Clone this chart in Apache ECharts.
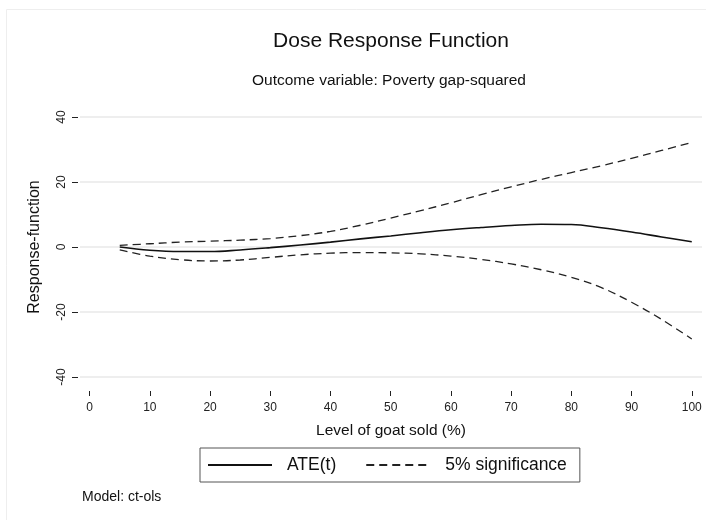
<!DOCTYPE html>
<html>
<head>
<meta charset="utf-8">
<script src="https://cdn.jsdelivr.net/npm/echarts@6/dist/echarts.min.js"></script>
<style>
  html, body { margin: 0; padding: 0; background: #fff; }
  #chart { width: 706px; height: 520px; }
</style>
</head>
<body>
<div id="chart"></div>
<script>
// Treatment level (% of goats sold)
const dose = [5, 10, 15, 20, 25, 30, 35, 40, 45, 50, 55, 60, 65, 70, 75, 80, 85, 90, 95, 100];
// Estimated dose response, ATE(t)
const ate = [0.0, -1.0, -1.4, -1.4, -0.9, -0.2, 0.6, 1.5, 2.5, 3.4, 4.4, 5.3, 6.0, 6.6, 7.0, 6.9, 5.9, 4.6, 3.1, 1.6];
// 5% significance bands
const upper = [0.5, 1.0, 1.5, 1.8, 2.1, 2.6, 3.5, 4.8, 6.7, 8.9, 11.2, 13.6, 16.1, 18.5, 20.8, 22.9, 25.0, 27.3, 29.7, 32.2];
const lower = [-0.9, -2.8, -3.9, -4.3, -4.0, -3.2, -2.4, -1.9, -1.7, -1.8, -2.1, -2.8, -3.8, -5.2, -7.0, -9.3, -12.5, -17.0, -22.3, -28.3];
// Axis tick labels
const xTicks = [0, 10, 20, 30, 40, 50, 60, 70, 80, 90, 100];
const yTicks = [-40, -20, 0, 20, 40];

const FONT = '"Liberation Sans", Arial, sans-serif';
const pair = (xs, ys) => xs.map((x, i) => [x, ys[i]]);

const chart = echarts.init(document.getElementById('chart'), null, { renderer: 'canvas' });

chart.setOption({
  backgroundColor: '#ffffff',
  animation: false,
  textStyle: { fontFamily: FONT },
  title: [
    {
      text: 'Dose Response Function',
      left: 386, top: 26, textAlign: 'center',
      textStyle: { fontFamily: FONT, fontSize: 21, fontWeight: 'normal', color: '#111' }
    },
    {
      text: 'Outcome variable: Poverty gap-squared',
      left: 384, top: 68, textAlign: 'center',
      textStyle: { fontFamily: FONT, fontSize: 15.5, fontWeight: 'normal', color: '#111' }
    }
  ],
  grid: { left: 80, right: 4, top: 117, bottom: 143, containLabel: false },
  xAxis: {
    type: 'value',
    min: -1.6, max: 101.7,
    offset: 14,
    name: 'Level of goat sold (%)',
    nameLocation: 'middle',
    nameGap: 32,
    nameTextStyle: { fontFamily: FONT, fontSize: 15.5, color: '#111' },
    axisLine: { show: false, onZero: false },
    axisTick: { show: true, customValues: xTicks, length: 5, lineStyle: { color: '#222', width: 1 } },
    axisLabel: { customValues: xTicks, margin: 11, fontFamily: FONT, fontSize: 12, color: '#222' },
    splitLine: { show: false }
  },
  yAxis: {
    type: 'value',
    min: yTicks[0], max: yTicks[yTicks.length - 1], interval: 20,
    offset: 2,
    name: 'Response-function',
    nameLocation: 'middle',
    nameRotate: 90,
    nameGap: 35,
    nameTextStyle: { fontFamily: FONT, fontSize: 16, color: '#111' },
    axisLine: { show: false, onZero: false },
    axisTick: { show: true, length: 6, lineStyle: { color: '#222', width: 1 } },
    axisLabel: { rotate: 90, margin: 10, fontFamily: FONT, fontSize: 12, color: '#222' },
    splitLine: { show: true, lineStyle: { color: '#e8e8e8', width: 1.5 } }
  },
  legend: {
    left: 200, top: 448,
    orient: 'horizontal',
    data: ['ATE(t)', '5% significance'],
    itemWidth: 64, itemHeight: 14, itemGap: 29,
    padding: [8, 13, 8, 7],
    borderColor: '#555', borderWidth: 1, borderRadius: 0,
    itemStyle: { opacity: 0 },
    textStyle: { fontFamily: FONT, fontSize: 17.5, color: '#111', padding: [0, 0, 0, 10] }
  },
  graphic: [
    {
      type: 'rect', silent: true, z: -1,
      shape: { x: 6.5, y: 9.5, width: 720, height: 530 },
      style: { fill: 'none', stroke: '#eeeeee', lineWidth: 1 }
    },
    {
      type: 'text', left: 82, top: 490,
      style: { text: 'Model: ct-ols', font: '14px ' + FONT, fill: '#111' }
    }
  ],
  series: [
    {
      name: 'ATE(t)', type: 'line', data: pair(dose, ate),
      symbol: 'none', smooth: 0.4,
      lineStyle: { color: '#111', width: 1.6, type: 'solid' },
      itemStyle: { color: '#111' }
    },
    {
      name: '5% significance', type: 'line', data: pair(dose, upper),
      symbol: 'none', smooth: 0.4,
      lineStyle: { color: '#222', width: 1.3, type: [8, 5] },
      itemStyle: { color: '#222' }
    },
    {
      name: '5% significance', type: 'line', data: pair(dose, lower),
      symbol: 'none', smooth: 0.4,
      lineStyle: { color: '#222', width: 1.3, type: [8, 5] },
      itemStyle: { color: '#222' }
    }
  ]
});
</script>
</body>
</html>
